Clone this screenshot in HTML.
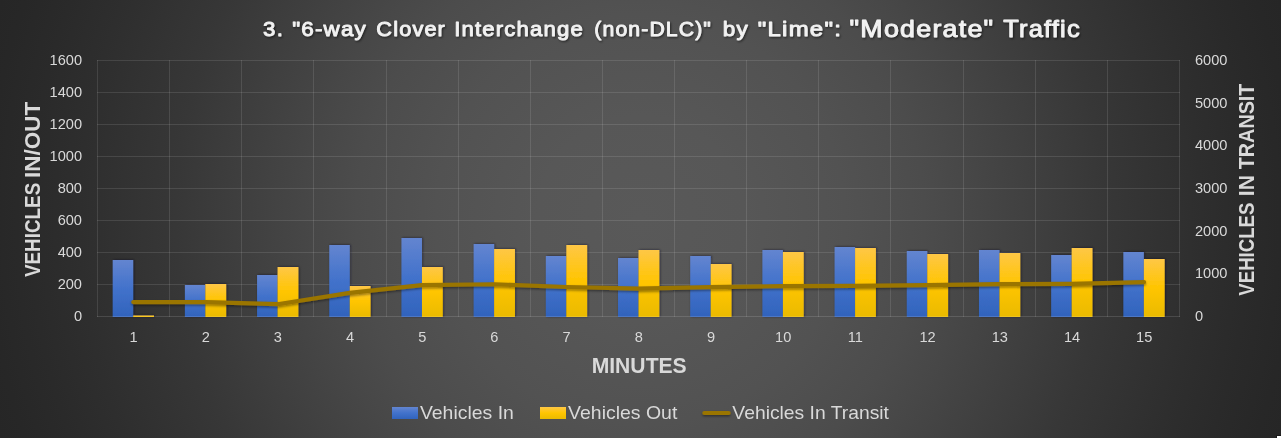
<!DOCTYPE html>
<html lang="en"><head><meta charset="utf-8"><title>6-way Clover Interchange - Moderate Traffic</title>
<style>
html,body{margin:0;padding:0;background:#262626;overflow:hidden}
body{width:1281px;height:438px}
#chart{display:block;width:1281px;height:438px;background:#262626}
text{font-family:"Liberation Sans",sans-serif;white-space:pre}
</style></head><body>
<svg id="chart" width="1281" height="438" viewBox="0 0 1281 438">
<defs>
<radialGradient id="bg" gradientUnits="userSpaceOnUse" cx="640.5" cy="219" r="677"><stop offset="0.0000" stop-color="#595959"/><stop offset="0.1521" stop-color="#575757"/><stop offset="0.3028" stop-color="#525252"/><stop offset="0.4195" stop-color="#4c4c4c"/><stop offset="0.4874" stop-color="#474747"/><stop offset="0.5628" stop-color="#414141"/><stop offset="0.6869" stop-color="#373737"/><stop offset="0.8287" stop-color="#2e2e2e"/><stop offset="0.9010" stop-color="#2a2a2a"/><stop offset="0.9645" stop-color="#272727"/><stop offset="1.0000" stop-color="#262626"/></radialGradient>
<linearGradient id="gb" x1="0" y1="0" x2="0" y2="1"><stop offset="0" stop-color="#6385D0"/><stop offset="0.5" stop-color="#4272CB"/><stop offset="1" stop-color="#3163BC"/></linearGradient>
<linearGradient id="gy" x1="0" y1="0" x2="0" y2="1"><stop offset="0" stop-color="#FEC746"/><stop offset="0.5" stop-color="#FFC500"/><stop offset="1" stop-color="#EABA00"/></linearGradient>
<filter id="bsh" x="-20%" y="-20%" width="150%" height="140%"><feDropShadow dx="0.8" dy="-0.3" stdDeviation="0.8" flood-color="#101828" flood-opacity="0.55"/></filter>
<filter id="lsh" filterUnits="userSpaceOnUse" x="0" y="0" width="1281" height="438"><feDropShadow dx="0" dy="1.4" stdDeviation="1.0" flood-color="#000" flood-opacity="0.42"/></filter>
<filter id="tsh" filterUnits="userSpaceOnUse" x="0" y="0" width="1281" height="60"><feDropShadow dx="1" dy="1.2" stdDeviation="0.8" flood-color="#000" flood-opacity="0.55"/></filter>
</defs>
<rect x="0" y="0" width="1281" height="438" fill="url(#bg)"/>
<g fill="#fff" fill-opacity="0.11">
<rect x="97" y="60" width="1083" height="1"/>
<rect x="97" y="92" width="1083" height="1"/>
<rect x="97" y="124" width="1083" height="1"/>
<rect x="97" y="156" width="1083" height="1"/>
<rect x="97" y="188" width="1083" height="1"/>
<rect x="97" y="220" width="1083" height="1"/>
<rect x="97" y="252" width="1083" height="1"/>
<rect x="97" y="284" width="1083" height="1"/>
<rect x="97" y="60" width="1" height="257"/>
<rect x="169" y="60" width="1" height="257"/>
<rect x="241" y="60" width="1" height="257"/>
<rect x="313" y="60" width="1" height="257"/>
<rect x="386" y="60" width="1" height="257"/>
<rect x="458" y="60" width="1" height="257"/>
<rect x="530" y="60" width="1" height="257"/>
<rect x="602" y="60" width="1" height="257"/>
<rect x="674" y="60" width="1" height="257"/>
<rect x="746" y="60" width="1" height="257"/>
<rect x="818" y="60" width="1" height="257"/>
<rect x="890" y="60" width="1" height="257"/>
<rect x="963" y="60" width="1" height="257"/>
<rect x="1035" y="60" width="1" height="257"/>
<rect x="1107" y="60" width="1" height="257"/>
<rect x="1179" y="60" width="1" height="257"/>
</g>
<g filter="url(#bsh)">
<rect x="112.70" y="260.0" width="20.5" height="57" fill="url(#gb)"/>
<rect x="133.20" y="315.5" width="20.8" height="1.5" fill="url(#gy)"/>
<rect x="184.89" y="285.0" width="20.5" height="32" fill="url(#gb)"/>
<rect x="205.39" y="284.0" width="20.8" height="33" fill="url(#gy)"/>
<rect x="257.08" y="275.0" width="20.5" height="42" fill="url(#gb)"/>
<rect x="277.58" y="267.0" width="20.8" height="50" fill="url(#gy)"/>
<rect x="329.27" y="245.0" width="20.5" height="72" fill="url(#gb)"/>
<rect x="349.77" y="286.0" width="20.8" height="31" fill="url(#gy)"/>
<rect x="401.46" y="238.0" width="20.5" height="79" fill="url(#gb)"/>
<rect x="421.96" y="267.0" width="20.8" height="50" fill="url(#gy)"/>
<rect x="473.65" y="244.0" width="20.5" height="73" fill="url(#gb)"/>
<rect x="494.15" y="249.0" width="20.8" height="68" fill="url(#gy)"/>
<rect x="545.84" y="256.0" width="20.5" height="61" fill="url(#gb)"/>
<rect x="566.34" y="245.0" width="20.8" height="72" fill="url(#gy)"/>
<rect x="618.03" y="258.0" width="20.5" height="59" fill="url(#gb)"/>
<rect x="638.53" y="250.0" width="20.8" height="67" fill="url(#gy)"/>
<rect x="690.22" y="256.0" width="20.5" height="61" fill="url(#gb)"/>
<rect x="710.72" y="264.0" width="20.8" height="53" fill="url(#gy)"/>
<rect x="762.41" y="250.0" width="20.5" height="67" fill="url(#gb)"/>
<rect x="782.91" y="252.0" width="20.8" height="65" fill="url(#gy)"/>
<rect x="834.60" y="247.0" width="20.5" height="70" fill="url(#gb)"/>
<rect x="855.10" y="248.0" width="20.8" height="69" fill="url(#gy)"/>
<rect x="906.79" y="251.0" width="20.5" height="66" fill="url(#gb)"/>
<rect x="927.29" y="254.0" width="20.8" height="63" fill="url(#gy)"/>
<rect x="978.98" y="250.0" width="20.5" height="67" fill="url(#gb)"/>
<rect x="999.48" y="253.0" width="20.8" height="64" fill="url(#gy)"/>
<rect x="1051.17" y="255.0" width="20.5" height="62" fill="url(#gb)"/>
<rect x="1071.67" y="248.0" width="20.8" height="69" fill="url(#gy)"/>
<rect x="1123.36" y="252.0" width="20.5" height="65" fill="url(#gb)"/>
<rect x="1143.86" y="259.0" width="20.8" height="58" fill="url(#gy)"/>
</g>
<rect x="97" y="316" width="1083" height="1" fill="#fff" fill-opacity="0.13"/>
<path d="M133.3,302.10 L205.5,302.20 L277.7,304.20 L349.9,292.90 L422.1,285.10 L494.2,284.25 L566.4,287.00 L638.6,288.60 L710.8,287.20 L783.0,286.10 L855.2,285.80 L927.4,285.10 L999.6,284.10 L1071.8,283.80 L1144.0,282.10" fill="none" stroke="#9A7400" stroke-width="4.2" stroke-linecap="round" stroke-linejoin="round" filter="url(#lsh)"/>
<g font-size="14.6" fill="#D9D9D9">
<text x="82" y="64.8" text-anchor="end">1600</text>
<text x="82" y="96.8" text-anchor="end">1400</text>
<text x="82" y="128.8" text-anchor="end">1200</text>
<text x="82" y="160.8" text-anchor="end">1000</text>
<text x="82" y="192.8" text-anchor="end">800</text>
<text x="82" y="224.8" text-anchor="end">600</text>
<text x="82" y="256.8" text-anchor="end">400</text>
<text x="82" y="288.8" text-anchor="end">200</text>
<text x="82" y="320.8" text-anchor="end">0</text>
<text x="1195" y="64.8">6000</text>
<text x="1195" y="107.5">5000</text>
<text x="1195" y="150.1">4000</text>
<text x="1195" y="192.8">3000</text>
<text x="1195" y="235.5">2000</text>
<text x="1195" y="278.1">1000</text>
<text x="1195" y="320.8">0</text>
<text x="133.5" y="341.7" text-anchor="middle">1</text>
<text x="205.7" y="341.7" text-anchor="middle">2</text>
<text x="277.9" y="341.7" text-anchor="middle">3</text>
<text x="350.1" y="341.7" text-anchor="middle">4</text>
<text x="422.3" y="341.7" text-anchor="middle">5</text>
<text x="494.4" y="341.7" text-anchor="middle">6</text>
<text x="566.6" y="341.7" text-anchor="middle">7</text>
<text x="638.8" y="341.7" text-anchor="middle">8</text>
<text x="711.0" y="341.7" text-anchor="middle">9</text>
<text x="783.2" y="341.7" text-anchor="middle">10</text>
<text x="855.4" y="341.7" text-anchor="middle">11</text>
<text x="927.6" y="341.7" text-anchor="middle">12</text>
<text x="999.8" y="341.7" text-anchor="middle">13</text>
<text x="1072.0" y="341.7" text-anchor="middle">14</text>
<text x="1144.2" y="341.7" text-anchor="middle">15</text>
</g>
<g font-size="22" font-weight="bold" fill="#D9D9D9">
<text transform="translate(40,300) rotate(-90)"><tspan x="22.94" textLength="94.27" lengthAdjust="spacingAndGlyphs">VEHICLES</tspan> <tspan x="122.06" textLength="76.19" lengthAdjust="spacingAndGlyphs">IN/OUT</tspan></text>
<text transform="translate(1254.3,300) rotate(-90)"><tspan x="4.35" textLength="93.00" lengthAdjust="spacingAndGlyphs">VEHICLES</tspan> <tspan x="103.87" textLength="21.16" lengthAdjust="spacingAndGlyphs">IN</tspan> <tspan x="130.79" textLength="85.59" lengthAdjust="spacingAndGlyphs">TRANSIT</tspan></text>
<text x="591.67" y="373.2" textLength="95.05" lengthAdjust="spacingAndGlyphs">MINUTES</text>
</g>
<text fill="#F2F2F2" stroke="#F2F2F2" stroke-width="0.9" stroke-linejoin="round" letter-spacing="1.1" filter="url(#tsh)" y="36.5">
<tspan x="263.08" y="36.1" font-size="20.8" textLength="20.91" lengthAdjust="spacingAndGlyphs">3.</tspan> <tspan x="292.22" y="36.1" font-size="20.8" textLength="74.67" lengthAdjust="spacingAndGlyphs">&quot;6-way</tspan> <tspan x="376.39" y="36.1" font-size="20.8" textLength="69.61" lengthAdjust="spacingAndGlyphs">Clover</tspan> <tspan x="454.24" y="36.1" font-size="20.8" textLength="129.73" lengthAdjust="spacingAndGlyphs">Interchange</tspan> <tspan x="594.33" y="36.1" font-size="20.8" textLength="117.62" lengthAdjust="spacingAndGlyphs">(non-DLC)&quot;</tspan> <tspan x="722.75" y="36.1" font-size="20.8" textLength="26.07" lengthAdjust="spacingAndGlyphs">by</tspan> <tspan x="757.72" y="36.1" font-size="20.8" textLength="84.42" lengthAdjust="spacingAndGlyphs">&quot;Lime&quot;:</tspan> <tspan x="849.60" y="36.6" font-size="23.2" textLength="144.77" lengthAdjust="spacingAndGlyphs">&quot;Moderate&quot;</tspan> <tspan x="1003.17" y="36.6" font-size="23.2" textLength="77.76" lengthAdjust="spacingAndGlyphs">Traffic</tspan>
</text>
<rect x="392" y="407" width="26" height="12" fill="url(#gb)"/>
<rect x="540" y="407" width="26" height="12" fill="url(#gy)"/>
<path d="M704.4,413 H728.6" stroke="#9A7400" stroke-width="4.2" stroke-linecap="round" fill="none" filter="url(#lsh)"/>
<g font-size="19" fill="#D9D9D9">
<text x="419.93" y="418.8" textLength="94.00" lengthAdjust="spacingAndGlyphs">Vehicles In</text>
<text x="568.13" y="418.8" textLength="109.16" lengthAdjust="spacingAndGlyphs">Vehicles Out</text>
<text x="732.36" y="418.8" textLength="156.64" lengthAdjust="spacingAndGlyphs">Vehicles In Transit</text>
</g>
<rect x="1276" y="435" width="5" height="3" fill="#1a1a1a"/><rect x="1277" y="436" width="4" height="2" fill="#fff"/>
</svg></body></html>
